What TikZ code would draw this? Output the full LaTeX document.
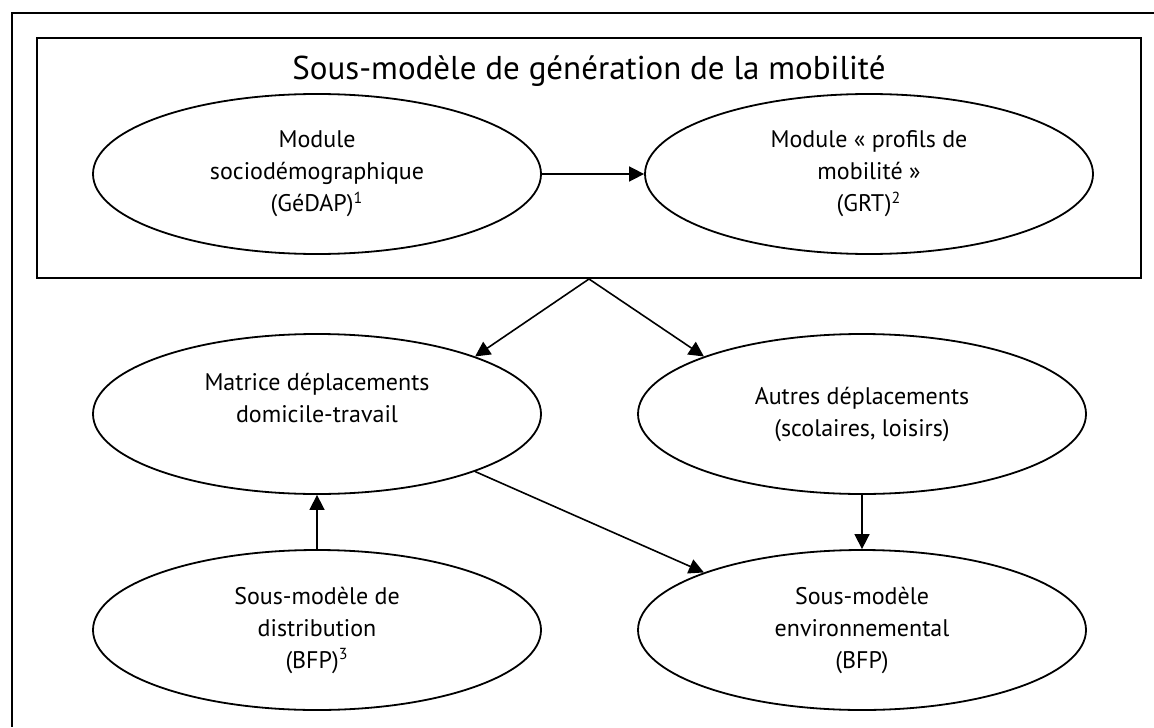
\documentclass[tikz,border=0pt]{standalone}
\usepackage{fontspec}
\setmainfont{PT Sans}
\usetikzlibrary{arrows.meta,shapes.geometric}

\begin{document}
\begin{tikzpicture}[x=0.5pt,y=-0.5pt,
  module/.style={ellipse,draw,line width=0.9pt,minimum width=224pt,minimum height=80pt,
    align=center,font=\fontsize{12}{16}\selectfont},
  fleche/.style={-{Triangle[length=7.5pt,width=7.5pt]},line width=0.8pt}]
\useasboundingbox (0,0) rectangle (1154,727);
\draw [line width=1pt] (1154,13) -- (12,13) -- (12,727);
\node [draw,line width=1pt,minimum width=552pt,minimum height=120pt,inner sep=0pt] (gen) at (589,158) {};
\node [anchor=base,font=\fontsize{16.5}{20}\selectfont] (titre) at (589,80) {Sous-modèle de génération de la mobilité};
\node [module] (socio) at (317,174) {Module\\sociodémographique\\(GéDAP)\textsuperscript{1}};
\node [module] (profils) at (869,174) {Module « profils de\\mobilité »\\(GRT)\textsuperscript{2}};
\node [module] (matrice) at (317,414) {Matrice déplacements\\domicile-travail\\\mbox{}};
\node [module] (autres) at (862,414) {Autres déplacements\\(scolaires, loisirs)};
\node [module] (distrib) at (317,630) {Sous-modèle de\\distribution\\(BFP)\textsuperscript{3}};
\node [module] (envir) at (862,630) {Sous-modèle\\environnemental\\(BFP)};
\draw [fleche] (socio) -- (profils);
\draw [fleche] (gen.south) -- (matrice.20);
\draw [fleche] (gen.south) -- (autres.160);
\draw [fleche] (distrib) -- (matrice);
\draw [fleche] (autres) -- (envir);
\draw [fleche] (matrice.-20) -- (envir.160);
\end{tikzpicture}
\end{document}
